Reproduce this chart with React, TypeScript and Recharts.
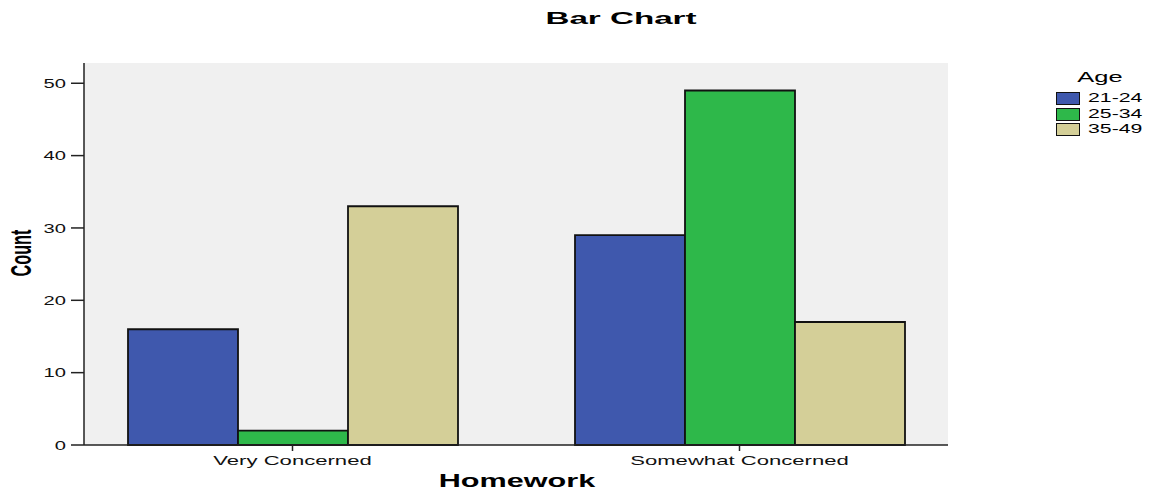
import React from "react";
import { BarChart, Bar, XAxis, YAxis, CartesianGrid } from "recharts";

const categories = ["Very Concerned", "Somewhat Concerned"];
const ageGroups = ["21-24", "25-34", "35-49"];
const age2124 = [16, 29];
const age2534 = [2, 49];
const age3549 = [33, 17];
const yTicks = [0, 10, 20, 30, 40, 50];
const colors = ["#3f58ad", "#2eb84a", "#d4cf98"];

const data = categories.map((name, i) => ({
  name,
  a: age2124[i],
  b: age2534[i],
  c: age3549[i],
}));
const keys = ["a", "b", "c"];

const FONT = "'Liberation Sans', Arial, sans-serif";
const STRETCH = 1.7;

const XTick = (props: any) => {
  const { x, y, payload } = props;
  return (
    <g transform={`translate(${x},${y})`}>
      <text
        transform={`scale(${STRETCH},1)`}
        textAnchor="middle"
        dy="0.75em"
        fontSize={13}
        fontFamily={FONT}
        fill="#111"
      >
        {payload.value}
      </text>
    </g>
  );
};

const YTick = (props: any) => {
  const { x, y, payload } = props;
  return (
    <g transform={`translate(${x},${y})`}>
      <text
        transform="scale(1.55,1)"
        textAnchor="end"
        dy="0.36em"
        fontSize={13}
        fontFamily={FONT}
        fill="#111"
      >
        {payload.value}
      </text>
    </g>
  );
};

const textStyle: React.CSSProperties = {
  position: "absolute",
  fontFamily: FONT,
  color: "#000",
  whiteSpace: "nowrap",
  lineHeight: 1,
};

export default function App() {
  return (
    <div style={{ position: "absolute", left: 0, top: 0, width: 1157, height: 491, background: "#fff" }}>
      <BarChart
        width={1157}
        height={491}
        data={data}
        barSize={110}
        barGap={0}
        margin={{ top: 63, right: 209, bottom: 16, left: 24 }}
      >
        <CartesianGrid horizontal={false} vertical={false} fill="#f0f0f0" />
        <XAxis
          dataKey="name"
          padding={{ left: -15, right: -15 }}
          tick={<XTick />}
          tickSize={6}
          tickMargin={4}
          height={30}
          axisLine={{ stroke: "#222", strokeWidth: 1.5 }}
          tickLine={{ stroke: "#222", strokeWidth: 1.5 }}
        />
        <XAxis
          xAxisId="top"
          orientation="top"
          dataKey="name"
          height={0}
          tick={false}
          tickLine={false}
          axisLine={{ stroke: "#444", strokeWidth: 1 }}
        />
        <YAxis
          domain={[0, 52.8]}
          ticks={yTicks}
          tick={<YTick />}
          tickSize={13}
          tickMargin={5}
          width={60}
          axisLine={{ stroke: "#222", strokeWidth: 1.5 }}
          tickLine={{ stroke: "#222", strokeWidth: 1.5 }}
        />
        <YAxis
          yAxisId="right"
          orientation="right"
          domain={[0, 52.8]}
          width={0}
          tick={false}
          tickLine={false}
          axisLine={{ stroke: "#444", strokeWidth: 1 }}
        />
        {keys.map((k, i) => (
          <Bar
            key={k}
            dataKey={k}
            name={ageGroups[i]}
            fill={colors[i]}
            stroke="#111"
            strokeWidth={1.8}
            isAnimationActive={false}
          />
        ))}
      </BarChart>

      <div style={{ ...textStyle, left: 621, top: 10, fontSize: 17, fontWeight: "bold", transform: "translateX(-50%) scaleX(1.95)" }}>
        Bar Chart
      </div>
      <div style={{ ...textStyle, left: 517, top: 472, fontSize: 18, fontWeight: "bold", transform: "translateX(-50%) scaleX(1.7)" }}>
        Homework
      </div>
      <div
        style={{
          ...textStyle,
          left: 21,
          top: 253,
          fontSize: 30,
          fontWeight: "bold",
          transform: "translate(-50%,-50%) rotate(-90deg) scaleX(0.54)",
        }}
      >
        Count
      </div>

      <div style={{ ...textStyle, left: 1100, top: 69, fontSize: 15, transform: "translateX(-50%) scaleX(1.7)" }}>
        Age
      </div>
      {ageGroups.map((g, i) => (
        <div key={g} style={{ position: "absolute", left: 1056, top: 92 + i * 15.5, display: "flex", alignItems: "center" }}>
          <div style={{ width: 22, height: 11, background: colors[i], border: "1px solid #111" }} />
          <div style={{ ...textStyle, position: "relative", marginLeft: 8, fontSize: 12.5, transform: "scaleX(1.7)", transformOrigin: "left center" }}>
            {g}
          </div>
        </div>
      ))}
    </div>
  );
}
